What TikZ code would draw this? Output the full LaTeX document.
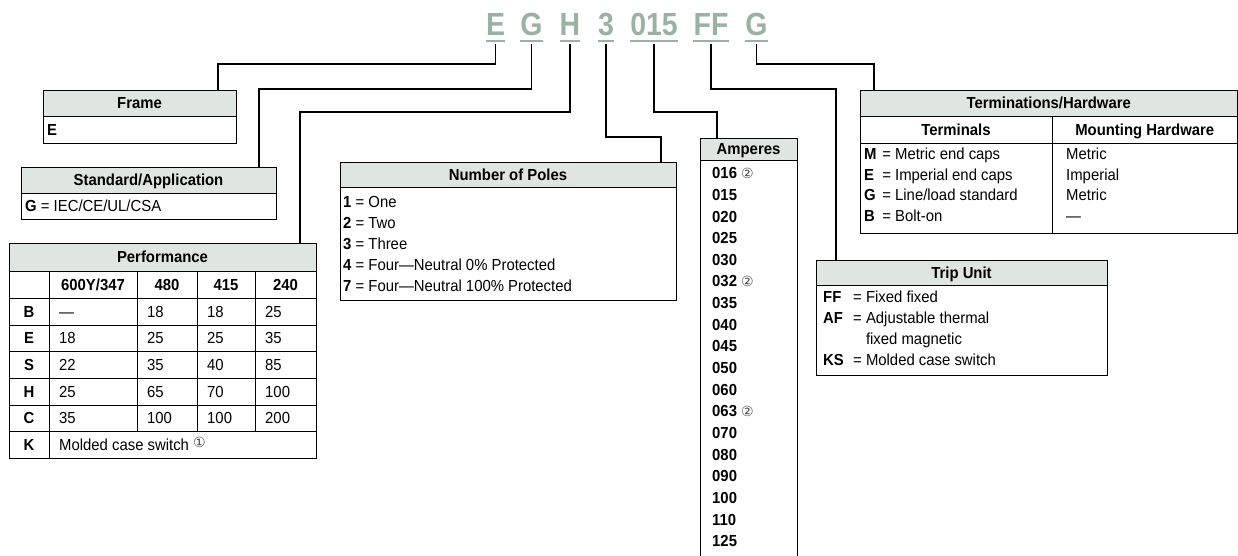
\documentclass[tikz,border=0pt]{standalone}
\usepackage{fontspec}
\setmainfont{Liberation Sans}[FakeStretch=0.93]
\newfontfamily\codefnt{Liberation Sans}[FakeStretch=0.89]
\newfontfamily\dejavufnt{DejaVu Sans}
\definecolor{codegreen}{RGB}{152,179,161}
\definecolor{hdrfill}{RGB}{223,230,225}
\newcommand{\circnum}[1]{{\dejavufnt\fontsize{14}{14}\selectfont\textcolor{black!70}{#1}}}
\begin{document}
\begin{tikzpicture}[x=1pt,y=-1pt,line join=miter,
  conn/.style={line width=1.8pt,draw=black},
  grid/.style={line width=1pt,draw=black},
  hbox/.style={draw=black,line width=1pt,fill=hdrfill,inner sep=0pt,
    font=\bfseries\fontsize{16}{19}\selectfont,text height=11.4pt,text depth=0pt},
  txt/.style={inner sep=0pt,anchor=west,font=\fontsize{16}{19}\selectfont,
    text height=11.4pt,text depth=0pt},
  ctxt/.style={txt,anchor=center},
  btxt/.style={ctxt,font=\bfseries\fontsize{16}{19}\selectfont},
  code/.style={inner sep=0pt,anchor=base,text=codegreen,text depth=0pt,
    font=\codefnt\bfseries\fontsize{32}{32}\selectfont},
  uline/.style={line width=2pt,draw=codegreen}]
\useasboundingbox (0,0) rectangle (1238,555);

% ---- code letters ----
\foreach \n/\t/\x in {cE/E/495.5, cG/G/531.5, cH/H/570, c3/3/606, cA/015/654, cF/FF/711, cT/G/756.5}{
  \node[code] (\n) at (\x,35) {\t};
  \draw[uline] ([yshift=-5.5pt]\n.south west) -- ([yshift=-5.5pt]\n.south east);
}

% ---- Frame ----
\node[hbox,minimum width=193pt,minimum height=26pt] (frameH) at (139.5,103) {Frame};
\draw[grid] (43,116) rectangle (236,143);
\node[txt] (fE) at (47,129.5) {\textbf{E}};

% ---- Standard/Application ----
\node[hbox,minimum width=255pt,minimum height=26pt] (stdH) at (148.5,180) {Standard/Application};
\draw[grid] (21,193) rectangle (276,219);
\node[txt] (sG) at (25,206) {\textbf{G} = IEC/CE/UL/CSA};

% ---- Performance ----
\node[hbox,minimum width=307pt,minimum height=28pt] (perfH) at (162.5,257) {Performance};
\draw[grid] (9,271) rectangle (316,458);
\foreach \y in {298,325,351,378,405,431} \draw[grid] (9,\y) -- (316,\y);
\draw[grid] (49,271) -- (49,458);
\foreach \x in {137,197,255} \draw[grid] (\x,271) -- (\x,431);
\node[btxt] (pc1) at (93,284.5) {600Y/347};
\node[btxt] (pc2) at (167,284.5) {480};
\node[btxt] (pc3) at (226,284.5) {415};
\node[btxt] (pc4) at (285.5,284.5) {240};
\foreach \lab/\y/\a/\b/\c/\d [count=\i] in {B/311.5/—/18/18/25, E/338/18/25/25/35, S/364.5/22/35/40/85, H/391.5/25/65/70/100, C/418/35/100/100/200}{
  \node[btxt] (pr\i) at (29,\y) {\lab};
  \node[txt] (pa\i) at (59,\y) {\a};
  \node[txt] (pb\i) at (147,\y) {\b};
  \node[txt] (pcc\i) at (207,\y) {\c};
  \node[txt] (pd\i) at (265,\y) {\d};
}
\node[btxt] (prK) at (29,444.5) {K};
\node[txt] (paK) at (59,444.5) {Molded case switch \raisebox{3pt}{\circnum{①}}};

% ---- Number of Poles ----
\node[hbox,minimum width=336pt,minimum height=25pt] (polesH) at (508,174.5) {Number of Poles};
\draw[grid] (340,187) rectangle (676,300);
\foreach \n/\t [count=\i] in {1/One,2/Two,3/Three,4/Four—Neutral 0\% Protected,7/Four—Neutral 100\% Protected}
  \node[txt] (pl\i) at (343,{180.4+21.1*\i}) {\textbf{\n} = \t};

% ---- Amperes ----
\node[hbox,minimum width=97pt,minimum height=22pt] (ampH) at (748.5,149) {Amperes};
\draw[grid] (700,160) -- (700,560);
\draw[grid] (797,160) -- (797,560);
\foreach \a/\m [count=\i] in {016/{~\circnum{②}},015/{},020/{},025/{},030/{},032/{~\circnum{②}},035/{},040/{},045/{},050/{},060/{},063/{~\circnum{②}},070/{},080/{},090/{},100/{},110/{},125/{}}
  \node[txt] (am\i) at (712,{151.35+21.65*\i}) {\textbf{\a}\m};

% ---- Terminations/Hardware ----
\node[hbox,minimum width=377.5pt,minimum height=26pt] (termH) at (1048.75,103) {Terminations/Hardware};
\draw[grid] (860,116) rectangle (1237.5,233);
\draw[grid] (860,143) -- (1237.5,143);
\draw[grid] (1052,116) -- (1052,233);
\node[btxt] (tc1) at (956,129.5) {Terminals};
\node[btxt] (tc2) at (1144.75,129.5) {Mounting Hardware};
\foreach \l/\t/\m/\y [count=\i] in {M/{Metric end caps}/Metric/154, E/{Imperial end caps}/Imperial/174.5, G/{Line/load standard}/Metric/195, B/{Bolt-on}/—/215.5}{
  \node[txt] (tl\i) at (864,\y) {\makebox[14pt][l]{\textbf{\l}} = \t};
  \node[txt] (tm\i) at (1066,\y) {\m};
}

% ---- Trip Unit ----
\node[hbox,minimum width=291pt,minimum height=25pt] (tripH) at (961.5,272.5) {Trip Unit};
\draw[grid] (816,285) rectangle (1107,375);
\node[txt] (tr1) at (823,297) {\makebox[30pt][l]{\textbf{FF}}= Fixed fixed};
\node[txt] (tr2) at (823,318) {\makebox[30pt][l]{\textbf{AF}}= Adjustable thermal};
\node[txt] (tr3) at (823,338.5) {\makebox[30pt][l]{}\phantom{=} fixed magnetic};
\node[txt] (tr4) at (823,359.5) {\makebox[30pt][l]{\textbf{KS}}= Molded case switch};

% ---- connectors ----
\coordinate (inFrame) at (218,90);
\coordinate (inStd) at (259,167);
\coordinate (inPerf) at (300,243);
\coordinate (inPoles) at (661,162);
\coordinate (inAmp) at (717,138);
\coordinate (inTrip) at (836,260);
\coordinate (inTerm) at (874,90);
\draw[conn] ([yshift=-9pt]cE.south) |- (inFrame |- 0,64) -- (inFrame);
\draw[conn] ([yshift=-9pt]cG.south) |- (inStd |- 0,89) -- (inStd);
\draw[conn] ([yshift=-9pt]cH.south) |- (inPerf |- 0,112) -- (inPerf);
\draw[conn] ([yshift=-9pt]c3.south) |- (inPoles |- 0,137) -- (inPoles);
\draw[conn] ([yshift=-9pt]cA.south) |- (inAmp |- 0,112) -- (inAmp);
\draw[conn] ([yshift=-9pt]cF.south) |- (inTrip |- 0,89) -- (inTrip);
\draw[conn] ([yshift=-9pt]cT.south) |- (inTerm |- 0,64) -- (inTerm);
\end{tikzpicture}
\end{document}
